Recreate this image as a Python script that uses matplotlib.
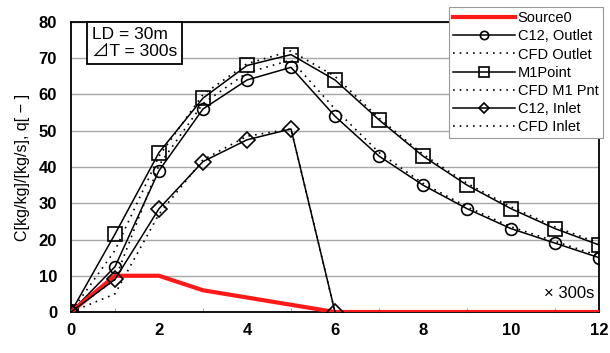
import numpy as np
import matplotlib.pyplot as plt
from matplotlib.lines import Line2D

plt.rcParams['font.family'] = ['Liberation Sans', 'DejaVu Sans']

# time steps (x 300 s)
t = [0, 1, 2, 3, 4, 5, 6, 7, 8, 9, 10, 11, 12]
t_inlet = [0, 1, 2, 3, 4, 5, 6]

source0 = [0, 10, 10, 6, 4, 2, 0, 0, 0, 0, 0, 0, 0]
c12_outlet = [0, 12.5, 39, 56, 64, 67.5, 54, 43, 35, 28.5, 23, 19, 15]
cfd_outlet = [0, 9, 40.5, 57.5, 66, 69.5, 56, 44, 35.5, 29, 23.5, 19.5, 15.5]
m1_point = [0, 21.5, 44, 59, 68, 71, 64, 53, 43, 35, 28.5, 23, 18.5]
cfd_m1 = [0, 17, 43, 60, 68.5, 72, 65, 53.5, 43.5, 35.5, 29, 23.5, 19]
c12_inlet = [0, 9, 28.5, 41.5, 47.5, 50.5, 0]
cfd_inlet = [0, 5, 27, 42, 48.5, 50.5, 0]

fig = plt.figure(figsize=(6.1, 3.53), dpi=100)
ax = fig.add_axes([0.1164, 0.1161, 0.982 - 0.1164, 0.9377 - 0.1161])

ax.set_xlim(0, 12)
ax.set_ylim(0, 80)
ax.set_xticks(range(0, 13, 2))
ax.set_xticks(range(0, 13), minor=True)
ax.set_yticks(range(0, 81, 10))
ax.tick_params(axis='both', labelsize=12, length=0)
ax.tick_params(axis='x', which='minor', direction='in', length=3, color='#999999')
for lab in ax.get_xticklabels() + ax.get_yticklabels():
    lab.set_fontweight('bold')
ax.tick_params(axis='x', pad=8)
ax.tick_params(axis='y', pad=10)
ax.grid(axis='y', color='#a8a8a8', lw=1)
ax.set_axisbelow(True)
for s in ax.spines.values():
    s.set_linewidth(1.3)

ax.set_ylabel('C[kg/kg]/[kg/s], q[ − ]', fontsize=11.5, labelpad=6)

lw = 1.1
ax.plot(t, source0, color='#ff1a1a', lw=3, zorder=5, label='Source0')
ax.plot(t, c12_outlet, color='black', lw=lw, marker='o', ms=8.5, mfc='none',
        mew=1.2, zorder=4, label='C12, Outlet')
ax.plot(t, cfd_outlet, color='black', lw=1.2, ls=(0, (1, 3)), zorder=3,
        label='CFD Outlet')
ax.plot(t, m1_point, color='black', lw=lw, marker='s', ms=9.5, mfc='none',
        mew=1.2, zorder=4, label='M1Point')
ax.plot(t, cfd_m1, color='black', lw=1.2, ls=(0, (1, 3)), zorder=3,
        label='CFD M1 Pnt')
ax.plot(t_inlet, c12_inlet, color='black', lw=lw, marker='D', ms=8, mfc='none',
        mew=1.2, zorder=6, label='C12, Inlet')
ax.plot(t_inlet, cfd_inlet, color='black', lw=1.2, ls=(0, (1, 3)), zorder=3,
        label='CFD Inlet')

leg = fig.legend(loc='upper left', bbox_to_anchor=(449 / 610, 1 - 7 / 353),
                 fontsize=10.5, frameon=True, fancybox=False, edgecolor='#999999',
                 framealpha=1, handlelength=4.2, handletextpad=0.2,
                 labelspacing=0.28, borderpad=0.3, borderaxespad=0,
                 markerscale=0.7)
leg.get_frame().set_linewidth(0.8)

fig.text(92 / 610, 1 - 43 / 353, 'LD = 30m\n⊿T = 300s', fontsize=12.5,
         family=['Liberation Sans', 'Noto Sans CJK JP'],
         va='center', ha='left', linespacing=1.15,
         bbox=dict(boxstyle='square,pad=0.3', fc='white', ec='black', lw=1.3))

ax.text(11.9, 3, '× 300s', fontsize=12, ha='right', va='bottom')

fig.savefig('out.png', dpi=100)
